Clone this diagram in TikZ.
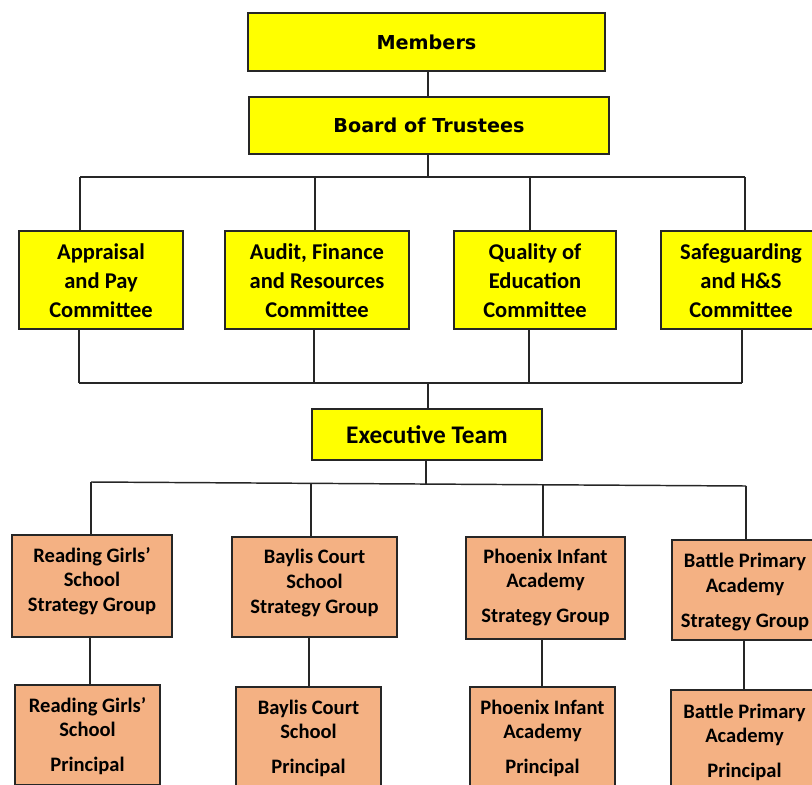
\documentclass[tikz,border=0pt]{standalone}
\usepackage{fontspec}
\setmainfont{Carlito}
\newfontfamily\tahfont{DejaVu Sans}
\definecolor{yelc}{HTML}{FFFF00}
\definecolor{orac}{HTML}{F4B183}
\definecolor{linec}{HTML}{262626}
\newdimen\px \px=0.75pt
\newcommand\vsh[2]{\raisebox{#1\px}[\height][\depth]{\begin{tabular}{@{}c@{}}#2\end{tabular}}}
\begin{document}
\begin{tikzpicture}[x=0.75pt,y=-0.75pt,
  box/.style={draw=linec, line width=1.1pt, align=center, inner sep=0pt},
  ybox/.style={box, fill=yelc},
  obox/.style={box, fill=orac},
  sz/.style 2 args={minimum width=#1*0.75pt, minimum height=#2*0.75pt},
  topfont/.style={font=\tahfont\bfseries\fontsize{14.4}{17}\selectfont},
  comfont/.style={font=\bfseries\fontsize{16.9}{21.75}\selectfont},
  exfont/.style={font=\bfseries\fontsize{19}{23}\selectfont},
  schfont/.style={font=\bfseries\fontsize{15.4}{18.6}\selectfont},
  conn/.style={draw=linec, line width=1.1pt}]
\useasboundingbox (0,0) rectangle (812,784);

% top
\node[ybox, sz={357}{58}, topfont] (mem) at (426.5,42) {Members};
\node[ybox, sz={360}{57}, topfont] (bd) at (429,125.5) {Board of Trustees};

% committees
\node[ybox, sz={164}{98}, comfont] (c1) at (101,280) {\vsh{-2.5}{Appraisal\\and Pay\\Committee}};
\node[ybox, sz={184}{98}, comfont] (c2) at (317,280) {\vsh{-2.5}{Audit, Finance\\and Resources\\Committee}};
\node[ybox, sz={162}{98}, comfont] (c3) at (535,280) {\vsh{-2.5}{Quality of\\Education\\Committee}};
\node[ybox, sz={160}{98}, comfont] (c4) at (741,280) {\vsh{-2.5}{Safeguarding\\and H\&S\\Committee}};

% executive
\node[ybox, sz={230}{51}, exfont] (ex) at (427,434.5) {Executive Team};

% strategy groups
\node[obox, sz={160}{102}, schfont] (s1) at (92,586) {\vsh{4}{Reading Girls’\\School\\Strategy Group}};
\node[obox, sz={165}{100}, schfont] (s2) at (314.5,587) {\vsh{3.5}{Baylis Court\\School\\Strategy Group}};
\node[obox, sz={159}{102}, schfont] (s3) at (545.5,588) {\vsh{0}{Phoenix Infant\\Academy\\[7.5pt]Strategy Group}};
\node[obox, sz={146}{100}, schfont] (s4) at (745,590) {\vsh{-2.5}{Battle Primary\\Academy\\[7.5pt]Strategy Group}};

% principals
\node[obox, sz={145}{100}, schfont] (p1) at (87.5,735) {\vsh{-2}{Reading Girls’\\School\\[7.5pt]Principal}};
\node[obox, sz={145}{100}, schfont] (p2) at (308.5,737) {\vsh{-2}{Baylis Court\\School\\[7.5pt]Principal}};
\node[obox, sz={145}{100}, schfont] (p3) at (542.5,737) {\vsh{-2}{Phoenix Infant\\Academy\\[7.5pt]Principal}};
\node[obox, sz={147}{102}, schfont] (p4) at (744.5,741) {\vsh{-2}{Battle Primary\\Academy\\[7.5pt]Principal}};

% coordinates
\coordinate (t0) at (428,177);
\coordinate (t1) at (80,177);
\coordinate (t2) at (315,177);
\coordinate (t3) at (530,177);
\coordinate (t4) at (745,177);
\coordinate (m0) at (428,383);
\coordinate (m1) at (79,383);
\coordinate (m2) at (314,383);
\coordinate (m3) at (529,383);
\coordinate (m4) at (742,383);
\coordinate (e0) at (426,484);
\coordinate (e1) at (91,482);
\coordinate (e2) at (311,483);
\coordinate (e3) at (543,485);
\coordinate (e4) at (746,486);
\coordinate (q1) at (90,660);
\coordinate (q2) at (309,660);
\coordinate (q3) at (542,660);
\coordinate (q4) at (744,660);

% connectors
\draw[conn] (mem.south -| t0) -- (bd.north -| t0);
\draw[conn] (bd.south -| t0) -- (t0);
\draw[conn] (t1) -- (t4);
\foreach \i in {1,2,3,4} {\draw[conn] (t\i) -- (t\i |- c\i.north);}
\foreach \i in {1,2,3,4} {\draw[conn] (c\i.south -| m\i) -- (m\i);}
\draw[conn] (m1) -- (m4);
\draw[conn] (m0) -- (ex.north -| m0);
\draw[conn] (ex.south -| e0) -- (e0);
\draw[conn] (e1) -- (e4);
\foreach \i in {1,2,3,4} {\draw[conn] (e\i) -- (e\i |- s\i.north);}
\foreach \i in {1,2,3,4} {\draw[conn] (s\i.south -| q\i) -- (p\i.north -| q\i);}
\end{tikzpicture}
\end{document}
